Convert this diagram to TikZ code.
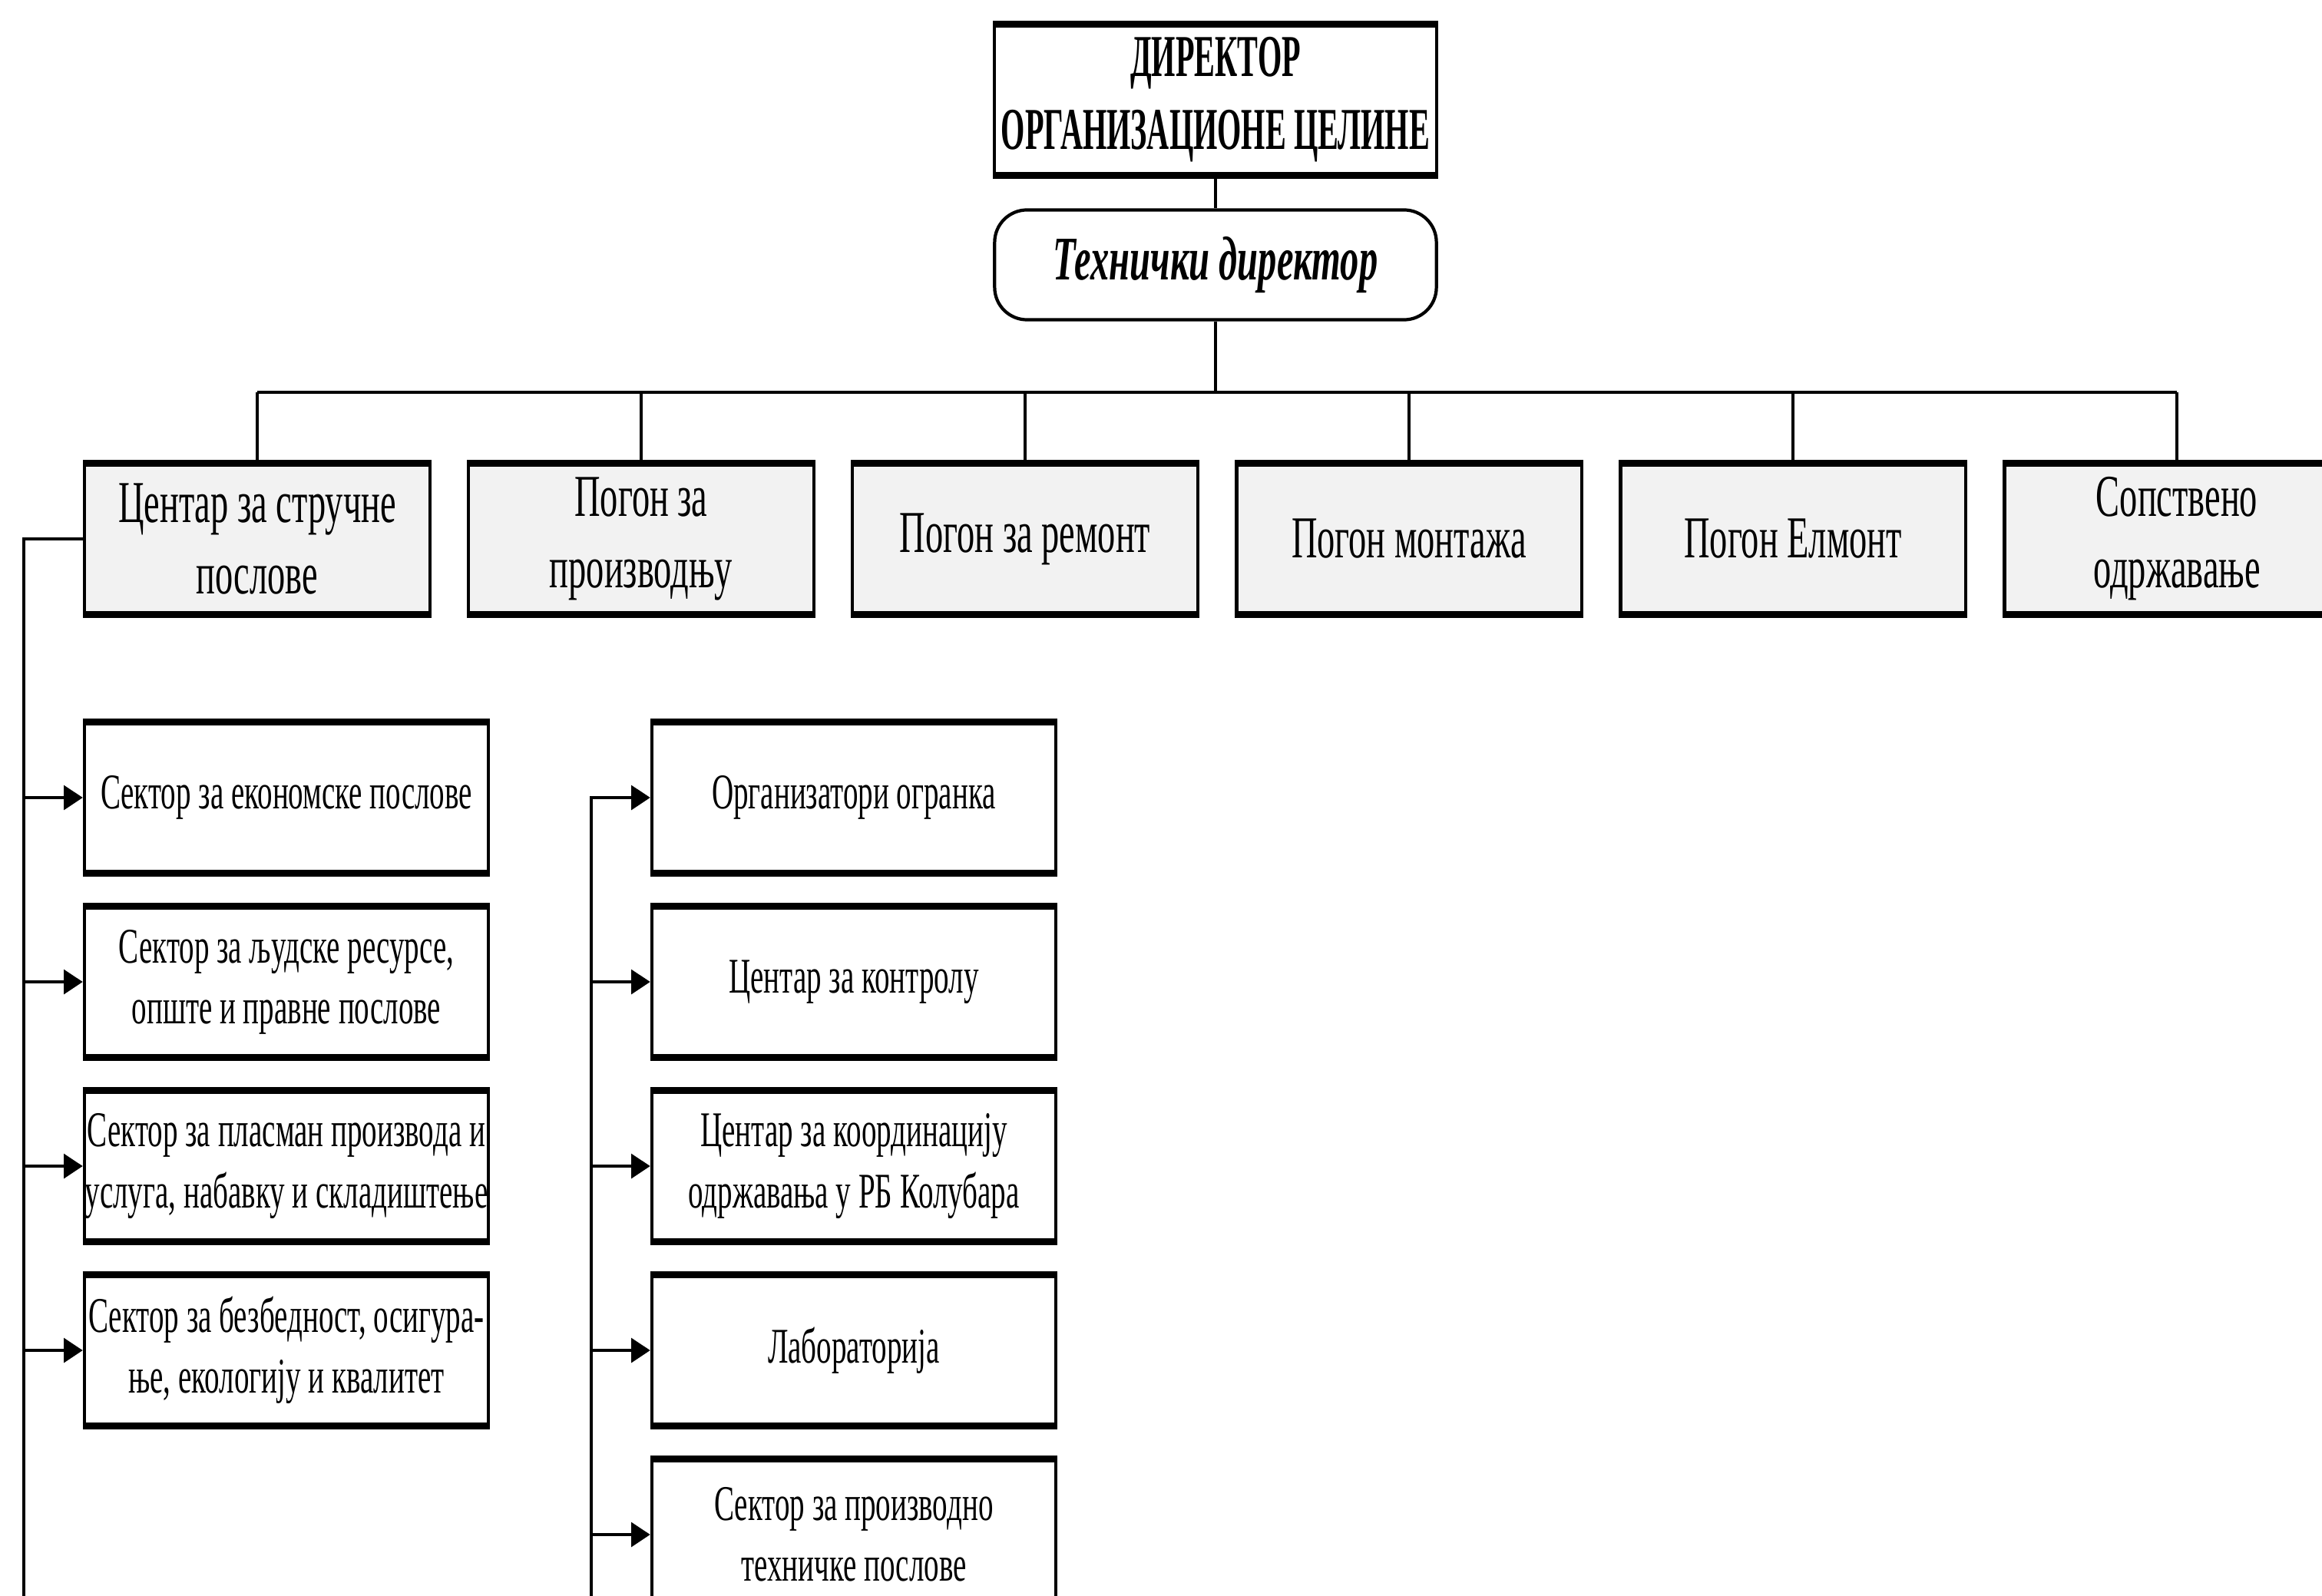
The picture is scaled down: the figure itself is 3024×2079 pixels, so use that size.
\documentclass[tikz,border=0pt]{standalone}
\usepackage{fontspec}
\setmainfont{Liberation Serif}[FakeStretch=0.6]
\newfontfamily\headfont{Liberation Serif}[FakeStretch=0.52]
\usetikzlibrary{arrows.meta}

\begin{document}
\begin{tikzpicture}[x=0.01cm, y=-0.01cm,
    box/.style={draw, line width=1.2pt, align=center, inner sep=0pt},
    head/.style={box, fill=white, minimum width=5.75cm, minimum height=1.93cm,
        font=\headfont\bfseries\fontsize{22}{27}\selectfont},
    tech/.style={box, fill=white, rounded corners=12pt, minimum width=5.75cm,
        minimum height=1.43cm, font=\bfseries\itshape\fontsize{23}{27}\selectfont},
    unit/.style={box, fill=gray!10, minimum width=4.49cm, minimum height=1.93cm,
        font=\fontsize{22}{26.5}\selectfont},
    dept/.style={box, fill=white, minimum width=5.26cm, minimum height=1.93cm,
        font=\fontsize{18.5}{22.5}\selectfont},
    link/.style={line width=1.1pt},
    arr/.style={link, -{Triangle[length=7pt, width=9pt]}}]
    \useasboundingbox (0,0) rectangle (3024,2079);

    \node[head] (dir) at (1583,130) {ДИРЕКТОР\\ОРГАНИЗАЦИОНЕ ЦЕЛИНЕ};
    \node[tech] (td) at (1583,345) {Технички директор};

    \foreach \i/\txt in {1/{Центар за стручне\\послове}, 2/{Погон за\\производњу},
        3/{Погон за ремонт}, 4/{Погон монтажа}, 5/{Погон Елмонт},
        6/{Сопствено\\одржавање}}
        \node[unit] (u\i) at ({335+500*(\i-1)},702) {\txt};

    \foreach \i/\txt in {1/{Сектор за економске послове},
        2/{Сектор за људске ресурсе,\\опште и правне послове},
        3/{Сектор за пласман производа и\\услуга, набавку и складиштење},
        4/{Сектор за безбедност, осигура-\\ње, екологију и квалитет}}
        \node[dept] (l\i) at (373,{1039+240*(\i-1)}) {\txt};

    \foreach \i/\txt in {1/{Организатори огранка}, 2/{Центар за контролу},
        3/{Центар за координацију\\одржавања у РБ Колубара},
        4/{Лабораторија}, 5/{Сектор за производно\\техничке послове}}
        \node[dept] (r\i) at (1112,{1039+240*(\i-1)}) {\txt};

    \foreach \n in {dir,u1,u2,u3,u4,u5,u6,l1,l2,l3,l4,r1,r2,r3,r4,r5} {
        \draw[line width=2.6pt] (\n.north west) -- (\n.north east);
        \draw[line width=2.6pt] (\n.south west) -- (\n.south east);
    }

    \coordinate (bus) at (1583,511);
    \draw[link] (dir) -- (td);
    \draw[link] (td) -- (bus);
    \draw[link] (u1.north |- bus) -- (u6.north |- bus);
    \foreach \i in {1,...,6}
        \draw[link] (u\i.north |- bus) -- (u\i.north);

    \coordinate (lbot) at (31,2079);
    \draw[link] (u1.west) -| (lbot);
    \foreach \i in {1,...,4}
        \draw[arr] (lbot |- l\i.west) -- (l\i.west);

    \coordinate (rbot) at (770,2079);
    \draw[arr] (rbot) |- (r1.west);
    \foreach \i in {2,...,5}
        \draw[arr] (rbot |- r\i.west) -- (r\i.west);
\end{tikzpicture}
\end{document}
